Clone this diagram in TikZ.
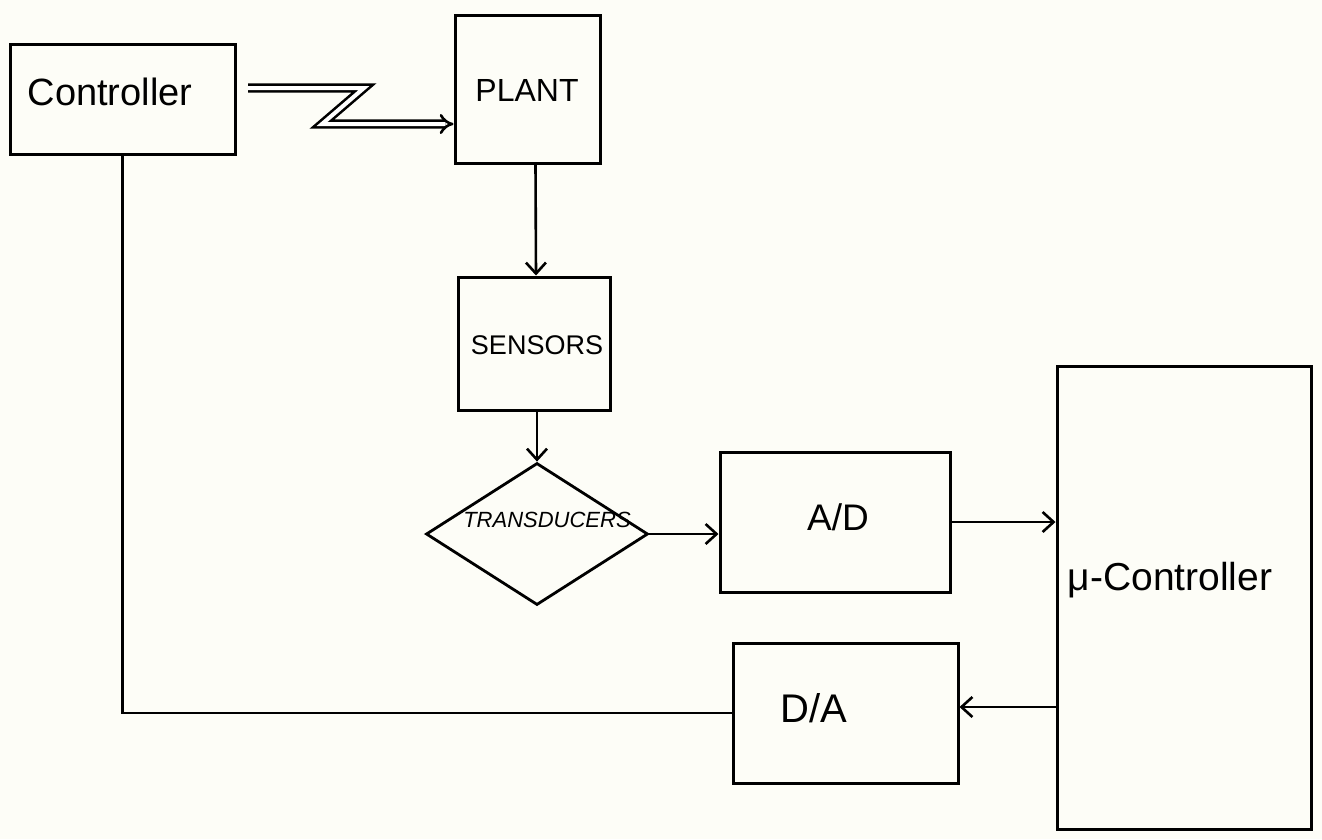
\documentclass[tikz,border=0pt]{standalone}
\usepackage{fontspec}
\setmainfont{Liberation Sans}
\usetikzlibrary{arrows.meta,shapes.geometric}
\definecolor{paper}{RGB}{253,253,247}
\begin{document}
\begin{tikzpicture}[x=1pt,y=-1pt,
  box/.style={draw, rectangle, line width=3pt, inner sep=0pt},
  lbl/.style={inner sep=0pt},
  conn/.style={line width=2.8pt},
  arr/.style={line width=2.6pt, -{Straight Barb[length=11pt,width=20pt,line width=2.6pt]}},
  dbl/.style={double, double distance=4pt, line width=2.6pt, -{Implies[length=9pt]}}]
\fill[paper] (0,0) rectangle (1322,839);
\useasboundingbox (0,0) rectangle (1322,839);
% boxes
\node[box, minimum width=225pt, minimum height=110pt] (ctrl) at (122.5,99) {};
\node[box, minimum width=145pt, minimum height=148pt] (plant) at (527.5,89) {};
\node[box, minimum width=152pt, minimum height=133pt] (sensors) at (534,343.5) {};
\node[draw, diamond, line width=2.8pt, inner sep=0pt, shape aspect=1.56,
      minimum width=222pt, minimum height=142pt] (trans) at (537,534) {};
\node[box, minimum width=230pt, minimum height=140pt] (ad) at (835,522) {};
\node[box, minimum width=225pt, minimum height=140pt] (da) at (845.5,713) {};
\node[box, minimum width=254pt, minimum height=463pt] (mu) at (1184,597.5) {};
% labels
\node[lbl, font=\fontsize{38}{40}\selectfont] (ctrlT) at (110,92) {Controller};
\node[lbl, font=\fontsize{32}{34}\selectfont] (plantT) at (527,90) {PLANT};
\node[lbl, font=\fontsize{27}{30}\selectfont] (sensT) at (537,345) {SENSORS};
\node[lbl, font=\itshape\fontsize{22}{24}\selectfont] (transT) at (547,520) {TRANSDUCERS};
\node[lbl, font=\fontsize{37}{40}\selectfont] (adT) at (838,517) {A/D};
\node[lbl, font=\fontsize{40}{42}\selectfont] (daT) at (814,708) {D/A};
\node[lbl, font=\fontsize{39}{42}\selectfont] (muT) at (1170,580) {μ-Controller};
% zigzag double connector
\coordinate (z0) at (248,88);
\coordinate (z1) at (364,88);
\coordinate (z2) at (322,124);
\draw[dbl] (z0) -- (z1) -- (z2) -- (plant.west |- z2);
% connectors
\draw[arr] ([xshift=8pt]plant.south) -- ([xshift=2pt]sensors.north);
\draw[arr] (trans.north |- sensors.south) -- (trans.north);
\draw[arr] (trans.east) -- (ad.west |- trans.east);
\draw[arr] (ad.east) -- (mu.west |- ad.east);
\draw[arr] ([yshift=6pt]mu.west |- da.east) -- ([yshift=6pt]da.east);
\draw[conn] (da.west) -| (ctrl.south);
\end{tikzpicture}
\end{document}
